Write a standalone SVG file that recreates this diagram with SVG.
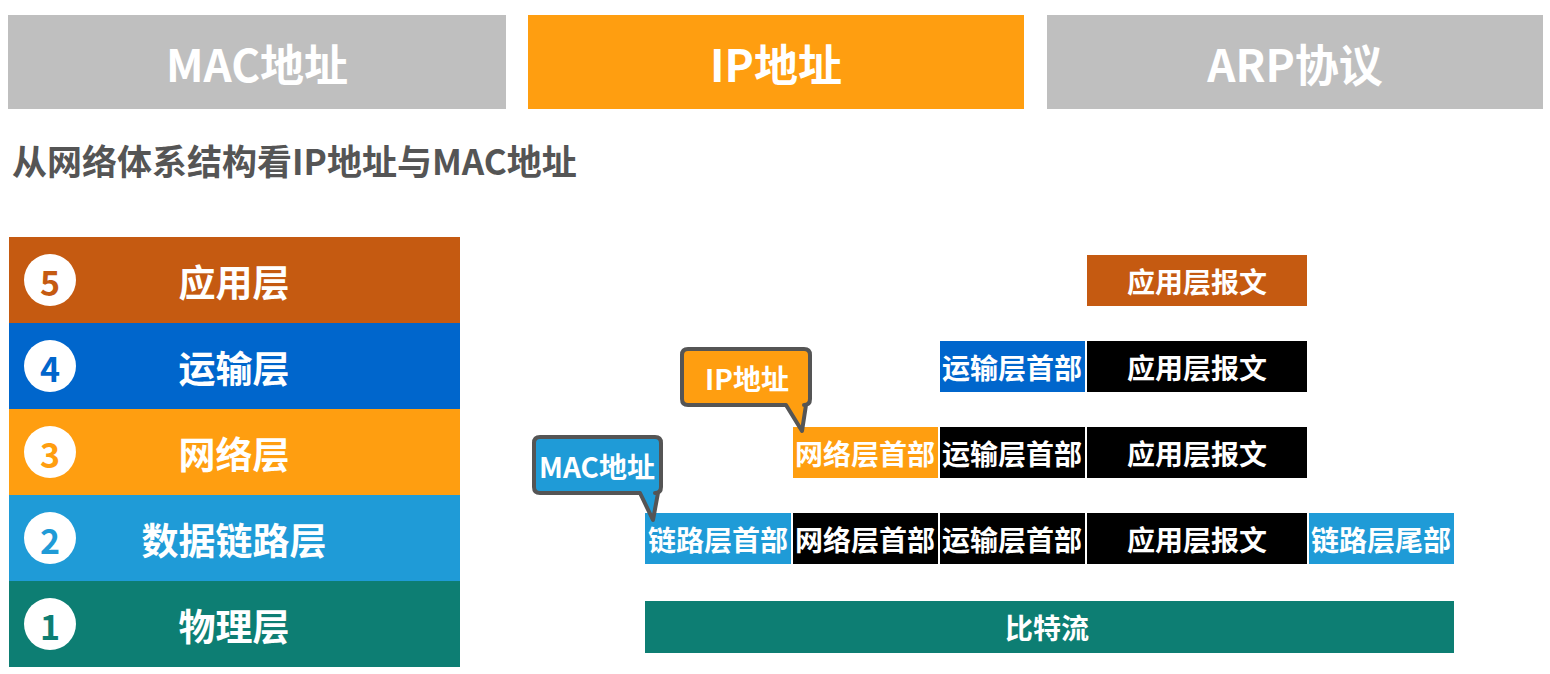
<svg xmlns="http://www.w3.org/2000/svg" width="1550" height="674" viewBox="0 0 1550 674">
  <style>
    text { font-family: "Noto Sans CJK SC", "Noto Sans", sans-serif; font-weight: bold; text-anchor: middle; dominant-baseline: central; }
    .tab { font-size: 44px; fill: #ffffff; }
    .layer { font-size: 37px; fill: #ffffff; }
    .num { font-size: 34px; }
    .pk { font-size: 28px; fill: #ffffff; }
    .tip { font-size: 28px; fill: #ffffff; }
    .bubble { stroke: #555555; stroke-width: 4; stroke-linejoin: round; }
    .c5 { fill: #C55A11; } .c4 { fill: #0066CC; } .c3 { fill: #FF9E10; } .c2 { fill: #1F9BD7; } .c1 { fill: #0D7E73; }
    .blk { fill: #000000; }
  </style>

  <!-- header tabs -->
  <g id="tab-mac"><rect x="8" y="15" width="498" height="94" fill="#BFBFBF"/><text class="tab" x="257" y="63">MAC地址</text></g>
  <g id="tab-ip"><rect x="528" y="15" width="496" height="94" fill="#FF9E10"/><text class="tab" x="776" y="63">IP地址</text></g>
  <g id="tab-arp"><rect x="1047" y="15" width="496" height="94" fill="#BFBFBF"/><text class="tab" x="1295" y="63">ARP协议</text></g>

  <text x="12" y="159" style="font-size:35px;fill:#555555;text-anchor:start">从网络体系结构看IP地址与MAC地址</text>

  <!-- protocol layers -->
  <g id="layer5"><rect class="c5" x="9" y="237" width="451" height="86"/><circle cx="50" cy="280" r="26" fill="#fff"/><text class="num" x="50" y="281" fill="#C55A11">5</text><text class="layer" x="234" y="281">应用层</text></g>
  <g id="layer4"><rect class="c4" x="9" y="323" width="451" height="86"/><circle cx="50" cy="366" r="26" fill="#fff"/><text class="num" x="50" y="367" fill="#0066CC">4</text><text class="layer" x="234" y="367">运输层</text></g>
  <g id="layer3"><rect class="c3" x="9" y="409" width="451" height="86"/><circle cx="50" cy="452" r="26" fill="#fff"/><text class="num" x="50" y="453" fill="#FF9E10">3</text><text class="layer" x="234" y="453">网络层</text></g>
  <g id="layer2"><rect class="c2" x="9" y="495" width="451" height="86"/><circle cx="50" cy="538" r="26" fill="#fff"/><text class="num" x="50" y="539" fill="#1F9BD7">2</text><text class="layer" x="234" y="539">数据链路层</text></g>
  <g id="layer1"><rect class="c1" x="9" y="581" width="451" height="86"/><circle cx="50" cy="624" r="26" fill="#fff"/><text class="num" x="50" y="625" fill="#0D7E73">1</text><text class="layer" x="234" y="625">物理层</text></g>

  <!-- encapsulation rows -->
  <g id="pdu5">
    <rect class="c5" x="1087" y="255" width="220" height="51"/><text class="pk" x="1197" y="281">应用层报文</text>
  </g>
  <g id="pdu4">
    <rect class="c4" x="940" y="341" width="145" height="51"/><text class="pk" x="1012" y="367">运输层首部</text>
    <rect class="blk" x="1087" y="341" width="220" height="51"/><text class="pk" x="1197" y="367">应用层报文</text>
  </g>
  <g id="pdu3">
    <rect class="c3" x="793" y="427" width="145" height="51"/><text class="pk" x="865" y="453">网络层首部</text>
    <rect class="blk" x="940" y="427" width="145" height="51"/><text class="pk" x="1012" y="453">运输层首部</text>
    <rect class="blk" x="1087" y="427" width="220" height="51"/><text class="pk" x="1197" y="453">应用层报文</text>
  </g>
  <g id="pdu2">
    <rect class="c2" x="645" y="513" width="146" height="51"/><text class="pk" x="718" y="539">链路层首部</text>
    <rect class="blk" x="793" y="513" width="145" height="51"/><text class="pk" x="865" y="539">网络层首部</text>
    <rect class="blk" x="940" y="513" width="145" height="51"/><text class="pk" x="1012" y="539">运输层首部</text>
    <rect class="blk" x="1087" y="513" width="220" height="51"/><text class="pk" x="1197" y="539">应用层报文</text>
    <rect class="c2" x="1309" y="513" width="145" height="51"/><text class="pk" x="1381" y="539">链路层尾部</text>
  </g>
  <g id="pdu1">
    <rect class="c1" x="645" y="601" width="809" height="52"/><text class="pk" x="1047" y="627">比特流</text>
  </g>

  <!-- callouts -->
  <g id="callout-ip">
    <path class="bubble" fill="#FF9E10" d="M688,349 H804 Q810,349 810,355 V399 Q810,405 804,405 H806 L802,431 L786,405 H688 Q682,405 682,399 V355 Q682,349 688,349 Z"/>
    <text class="tip" x="747" y="378">IP地址</text>
  </g>
  <g id="callout-mac">
    <path class="bubble" fill="#1F9BD7" d="M540,437 H655 Q661,437 661,443 V487 Q661,493 655,493 H658 L653,520 L640,493 H540 Q534,493 534,487 V443 Q534,437 540,437 Z"/>
    <text class="tip" x="597" y="466">MAC地址</text>
  </g>
</svg>
